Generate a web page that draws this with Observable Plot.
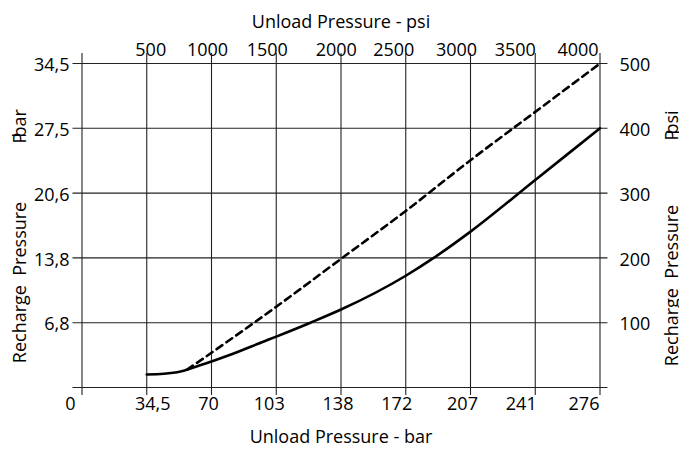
<!DOCTYPE html>
<html><head><meta charset="utf-8">
<script src="https://cdn.jsdelivr.net/npm/d3@7"></script>
<script src="https://cdn.jsdelivr.net/npm/@observablehq/plot@0.6"></script>
<style>html,body{margin:0;padding:0;background:#fff;} svg{display:block}</style>
</head><body><div id="chart"></div>
<script>
// Bottom axis: unload pressure in bar
const barTicks = [0, 34.5, 69, 103.5, 138, 172.5, 207, 241.5, 276];
const barTickLabels = ["0", "34,5", "70", "103", "138", "172", "207", "241", "276"];
// Top axis: unload pressure in psi
const psiTicks = [34.5, 69, 103.5, 138, 172.5, 207, 241.5, 276];
const psiTickLabels = ["500", "1000", "1500", "2000", "2500", "3000", "3500", "4000"];
// Vertical axes: recharge pressure
const rechargeTicks = [0, 6.9, 13.8, 20.7, 27.6, 34.5];
const rechargeBarLabels = ["", "6,8", "13,8", "20,6", "27,5", "34,5"];
const rechargePsiLabels = ["", "100", "200", "300", "400", "500"];

// Solid curve (bar)
const solidUnload   = [34.5, 43.6, 52.5, 61.4, 69, 79, 96.9, 103.5, 121.7, 138, 172.5, 187.4, 207, 241.5, 276];
const solidRecharge = [1.39, 1.46, 1.7, 2.27, 2.77, 3.48, 4.9, 5.42, 6.9, 8.3, 11.9, 13.8, 16.6, 22.1, 27.6];
// Dashed curve (bar)
const dashedUnload   = [56, 69, 103.5, 138, 172.5, 207, 241.5, 276];
const dashedRecharge = [1.9, 3.7, 8.6, 13.7, 18.8, 24.2, 29.35, 34.5];

// label nudges (style only)
const bottomNudge = [-11.5, 6, -3, -7, -3, -9, -8, -14, -16];
const topNudge = [4, -4, -9, -4.7, -12, -14, -20, -22];

const solid = solidUnload.map((x, i) => ({x, y: solidRecharge[i]}));
const dashed = dashedUnload.map((x, i) => ({x, y: dashedRecharge[i]}));

const font = "Open Sans";
const fs = 18;
const gridStroke = "#222";
const T = {fontSize: fs, fontFamily: font, fill: "#000"};

const marks = [
  Plot.ruleX(barTicks, {x: d => d, stroke: gridStroke, strokeWidth: 1.1, insetTop: -10, insetBottom: -8}),
  Plot.ruleY(rechargeTicks, {y: d => d, stroke: gridStroke, strokeWidth: 1.1, insetLeft: -9, insetRight: -8}),
  Plot.line(solid, {x: "x", y: "y", curve: "monotone-x", stroke: "#000", strokeWidth: 2.6}),
  Plot.line(dashed, {x: "x", y: "y", curve: "monotone-x", stroke: "#000", strokeWidth: 2.6, strokeDasharray: "7,5"}),
  // left tick labels
  Plot.text(rechargeTicks, {y: d => d, text: (d, i) => rechargeBarLabels[i], frameAnchor: "left", textAnchor: "end", dx: -12.5, dy: 2, ...T}),
  // right tick labels
  Plot.text(rechargeTicks, {y: d => d, text: (d, i) => rechargePsiLabels[i], frameAnchor: "right", textAnchor: "start", dx: 19.5, dy: 2, ...T}),
  // titles
  Plot.text(["Unload Pressure - psi"], {frameAnchor: "top", dy: -48, ...T}),
  Plot.text(["Unload Pressure - bar"], {frameAnchor: "bottom", dy: 55, ...T}),
  Plot.text(["Recharge  Pressure"], {frameAnchor: "top-left", dx: -69, dy: 219, rotate: -90, textAnchor: "middle", ...T}),
  Plot.text(["P"], {frameAnchor: "top-left", dx: -69, dy: 80, rotate: -90, textAnchor: "start", ...T}),
  Plot.text(["bar"], {frameAnchor: "top-left", dx: -69, dy: 74, rotate: -90, textAnchor: "start", ...T}),
  Plot.text(["Recharge  Pressure"], {frameAnchor: "top-right", dx: 65.5, dy: 222, rotate: -90, textAnchor: "middle", ...T}),
  Plot.text(["P"], {frameAnchor: "top-right", dx: 65.5, dy: 77, rotate: -90, textAnchor: "start", ...T}),
  Plot.text(["psi"], {frameAnchor: "top-right", dx: 65.5, dy: 71, rotate: -90, textAnchor: "start", ...T})
];
barTicks.forEach((t, i) => marks.push(
  Plot.text([t], {x: d => d, text: [barTickLabels[i]], frameAnchor: "bottom", dy: 22.5, dx: bottomNudge[i], ...T})
));
psiTicks.forEach((t, i) => marks.push(
  Plot.text([t], {x: d => d, text: [psiTickLabels[i]], frameAnchor: "top", dy: -20.5, dx: topNudge[i], ...T})
));

const chart = Plot.plot({
  width: 679,
  height: 452,
  marginLeft: 81.5,
  marginRight: 79.5,
  marginTop: 63,
  marginBottom: 65,
  x: {domain: [0, 276], axis: null},
  y: {domain: [0, 34.5], axis: null},
  style: {fontFamily: font, background: "#fff", color: "#000", overflow: "visible"},
  marks
});
document.getElementById("chart").appendChild(chart);
</script>
</body></html>
